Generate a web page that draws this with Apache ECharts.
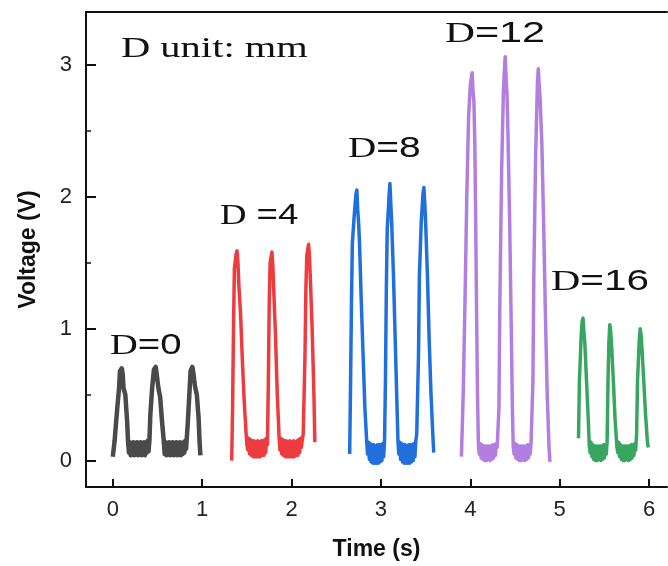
<!DOCTYPE html>
<html>
<head>
<meta charset="utf-8">
<script src="https://cdn.jsdelivr.net/npm/echarts@6/dist/echarts.min.js"></script>
<style>
  html, body { margin: 0; padding: 0; background: #fff; }
  #main { width: 668px; height: 566px; }
</style>
</head>
<body>
<div id="main"></div>
<script>
// traces, [time s, voltage V]
var d0 = [
  [0.00,0.03],[0.02,0.15],[0.05,0.40],[0.07,0.55],[0.08,0.68],[0.10,0.70],[0.11,0.66],[0.12,0.55],[0.14,0.50],[0.16,0.30],[0.17,0.15],
  [0.18,0.06],[0.19,0.14],[0.20,0.04],[0.21,0.13],[0.22,0.05],[0.23,0.14],[0.24,0.04],[0.25,0.12],[0.26,0.05],[0.27,0.14],[0.28,0.04],[0.29,0.13],
  [0.30,0.05],[0.31,0.14],[0.32,0.04],[0.33,0.13],[0.34,0.05],[0.35,0.14],[0.36,0.04],[0.37,0.13],[0.38,0.06],[0.39,0.15],[0.40,0.07],[0.41,0.16],
  [0.42,0.35],[0.44,0.55],[0.46,0.69],[0.48,0.71],[0.49,0.66],[0.51,0.55],[0.53,0.48],[0.55,0.30],[0.57,0.15],
  [0.58,0.05],[0.59,0.14],[0.60,0.04],[0.61,0.13],[0.62,0.05],[0.63,0.14],[0.64,0.04],[0.65,0.12],[0.66,0.05],[0.67,0.14],[0.68,0.04],[0.69,0.13],
  [0.70,0.05],[0.71,0.14],[0.72,0.04],[0.73,0.13],[0.74,0.05],[0.75,0.14],[0.76,0.04],[0.77,0.13],[0.78,0.05],[0.79,0.14],[0.80,0.06],[0.81,0.15],[0.82,0.09],
  [0.84,0.30],[0.86,0.55],[0.87,0.68],[0.89,0.71],[0.90,0.67],[0.92,0.56],[0.94,0.50],[0.96,0.32],[0.97,0.15],[0.98,0.04]
];
var d4 = [
  [1.33,0.00],[1.34,0.40],[1.35,1.00],[1.36,1.45],[1.38,1.57],[1.39,1.59],[1.40,1.50],[1.41,1.33],[1.43,1.10],[1.45,0.75],[1.47,0.45],[1.49,0.22],[1.50,0.12],
  [1.51,0.08],[1.52,0.17],[1.53,0.05],[1.54,0.16],[1.55,0.04],[1.56,0.15],[1.57,0.03],[1.58,0.15],[1.59,0.03],[1.60,0.14],[1.61,0.03],[1.62,0.15],
  [1.63,0.03],[1.64,0.14],[1.65,0.03],[1.66,0.15],[1.67,0.04],[1.68,0.15],[1.69,0.04],[1.70,0.16],[1.71,0.06],[1.72,0.17],[1.73,0.12],
  [1.74,0.60],[1.75,1.20],[1.76,1.50],[1.78,1.58],[1.79,1.48],[1.80,1.30],[1.82,0.95],[1.84,0.50],[1.86,0.18],
  [1.87,0.08],[1.88,0.17],[1.89,0.05],[1.90,0.16],[1.91,0.04],[1.92,0.15],[1.93,0.03],[1.94,0.15],[1.95,0.03],[1.96,0.14],[1.97,0.03],[1.98,0.15],
  [1.99,0.03],[2.00,0.14],[2.01,0.03],[2.02,0.15],[2.03,0.03],[2.04,0.14],[2.05,0.04],[2.06,0.15],[2.07,0.04],[2.08,0.16],[2.09,0.06],[2.10,0.17],[2.11,0.10],[2.12,0.16],
  [2.13,0.20],[2.15,0.80],[2.16,1.30],[2.17,1.55],[2.19,1.64],[2.20,1.55],[2.21,1.38],[2.23,1.00],[2.25,0.50],[2.26,0.14]
];
var d8 = [
  [2.65,0.05],[2.66,0.60],[2.67,1.20],[2.68,1.65],[2.70,1.85],[2.72,2.02],[2.73,2.05],[2.74,1.90],[2.75,1.80],[2.76,1.65],[2.78,1.20],[2.80,0.80],[2.82,0.40],[2.84,0.15],
  [2.85,0.05],[2.86,0.14],[2.87,0.01],[2.88,0.13],[2.89,-0.01],[2.90,0.12],[2.91,-0.02],[2.92,0.12],[2.93,-0.02],[2.94,0.11],[2.95,-0.02],[2.96,0.12],
  [2.97,-0.02],[2.98,0.12],[2.99,-0.01],[3.00,0.12],[3.01,0.00],[3.02,0.13],[3.03,0.03],[3.04,0.15],
  [3.05,0.60],[3.06,1.30],[3.07,1.75],[3.09,2.00],[3.10,2.10],[3.11,1.95],[3.12,1.80],[3.14,1.40],[3.16,0.90],[3.18,0.40],[3.19,0.15],
  [3.20,0.05],[3.21,0.14],[3.22,0.01],[3.23,0.13],[3.24,-0.01],[3.25,0.12],[3.26,-0.02],[3.27,0.12],[3.28,-0.02],[3.29,0.11],[3.30,-0.02],[3.31,0.12],
  [3.32,-0.02],[3.33,0.12],[3.34,-0.01],[3.35,0.12],[3.36,0.00],[3.37,0.13],[3.38,0.03],[3.39,0.15],[3.40,0.20],
  [3.42,0.80],[3.43,1.40],[3.45,1.80],[3.47,2.02],[3.48,2.07],[3.49,1.95],[3.50,1.80],[3.52,1.40],[3.54,0.90],[3.56,0.50],[3.58,0.20],[3.59,0.06]
];
var d12 = [
  [3.90,0.03],[3.92,0.50],[3.94,1.20],[3.96,2.00],[3.98,2.60],[4.00,2.85],[4.02,2.94],[4.03,2.80],[4.04,2.72],[4.05,2.40],[4.06,1.80],[4.07,1.10],[4.08,0.50],[4.09,0.12],
  [4.10,0.05],[4.11,0.13],[4.12,0.02],[4.13,0.12],[4.14,0.01],[4.15,0.11],[4.16,0.00],[4.17,0.11],[4.18,0.00],[4.19,0.11],[4.20,0.01],[4.21,0.11],
  [4.22,0.00],[4.23,0.11],[4.24,0.01],[4.25,0.12],[4.26,0.02],[4.27,0.12],[4.28,0.04],[4.29,0.13],[4.30,0.10],
  [4.32,0.40],[4.33,1.20],[4.35,2.20],[4.37,2.80],[4.38,2.95],[4.39,3.06],[4.40,2.90],[4.41,2.78],[4.42,2.50],[4.44,1.80],[4.46,0.90],[4.47,0.40],[4.48,0.10],
  [4.49,0.05],[4.50,0.13],[4.51,0.02],[4.52,0.12],[4.53,0.01],[4.54,0.11],[4.55,0.00],[4.56,0.11],[4.57,0.00],[4.58,0.11],[4.59,0.01],[4.60,0.11],
  [4.61,0.00],[4.62,0.11],[4.63,0.01],[4.64,0.12],[4.65,0.02],[4.66,0.12],[4.67,0.05],[4.68,0.15],
  [4.70,0.60],[4.71,1.40],[4.73,2.30],[4.75,2.85],[4.76,2.97],[4.77,2.85],[4.78,2.75],[4.80,2.40],[4.82,1.80],[4.84,1.10],[4.86,0.50],[4.88,0.10],[4.89,-0.01]
];
var d16 = [
  [5.21,0.17],[5.22,0.60],[5.24,0.95],[5.25,1.05],[5.26,1.08],[5.27,0.98],[5.28,0.90],[5.30,0.60],[5.32,0.30],[5.33,0.12],
  [5.34,0.06],[5.35,0.14],[5.36,0.03],[5.37,0.12],[5.38,0.01],[5.39,0.11],[5.40,0.00],[5.41,0.11],[5.42,0.00],[5.43,0.11],[5.44,0.01],[5.45,0.11],
  [5.46,0.00],[5.47,0.11],[5.48,0.01],[5.49,0.12],[5.50,0.02],[5.51,0.12],[5.52,0.05],[5.53,0.14],
  [5.54,0.60],[5.55,0.90],[5.56,1.03],[5.57,0.98],[5.58,0.88],[5.60,0.60],[5.62,0.30],[5.64,0.10],
  [5.65,0.06],[5.66,0.14],[5.67,0.03],[5.68,0.12],[5.69,0.01],[5.70,0.11],[5.71,0.00],[5.72,0.11],[5.73,0.00],[5.74,0.11],[5.75,0.01],[5.76,0.11],
  [5.77,0.00],[5.78,0.11],[5.79,0.01],[5.80,0.12],[5.81,0.02],[5.82,0.12],[5.83,0.04],[5.84,0.13],[5.85,0.08],[5.86,0.20],
  [5.87,0.60],[5.89,0.92],[5.90,1.00],[5.91,0.95],[5.92,0.85],[5.94,0.60],[5.96,0.35],[5.98,0.15],[5.99,0.10]
];

var traceNames = ['D=0', 'D=4', 'D=8', 'D=12', 'D=16'];
var traceData = [d0, d4, d8, d12, d16];
var traceColors = ['#4a4a4a', '#ee3b40', '#1f6fdc', '#b27ee0', '#38a660'];
var traceWidths = [4.5, 3.5, 3.5, 3.5, 3.5];
var xTicks = [0, 1, 2, 3, 4, 5, 6];
var yTicks = [0, 1, 2, 3];

var chartDom = document.getElementById('main');
var myChart = echarts.init(chartDom);
var option;

var sans = 'Liberation Sans';
var serif = 'Liberation Serif';

function dLabel(x, y, rest, sx) {
  return {
    type: 'text',
    left: x,
    top: y,
    scaleX: sx,
    style: {
      text: '{d|D}{s|' + rest + '}',
      rich: {
        d: { fontFamily: serif, fontSize: 30, fill: '#111' },
        s: { fontFamily: sans, fontSize: 30, fill: '#111' }
      }
    }
  };
}

var seriesList = [];
for (var i = 0; i < traceData.length; i++) {
  seriesList.push({
    name: traceNames[i],
    type: 'line',
    data: traceData[i],
    showSymbol: false,
    symbol: 'none',
    lineStyle: { color: traceColors[i], width: traceWidths[i], join: 'round' },
    itemStyle: { color: traceColors[i] },
    z: 2
  });
}

option = {
  backgroundColor: '#fff',
  animation: false,
  grid: { left: 86, right: 1, top: 12, bottom: 79 },
  xAxis: [
    {
      type: 'value',
      min: -0.3,
      max: 6.2,
      name: 'Time (s)',
      nameLocation: 'middle',
      nameGap: 51,
      nameTextStyle: { fontFamily: sans, fontSize: 23, fontWeight: 'bold', color: '#111' },
      axisLine: { show: true, onZero: false, lineStyle: { color: '#111', width: 2 } },
      axisTick: { show: true, inside: true, length: 8, lineStyle: { color: '#111', width: 2 },
        customValues: xTicks },
      axisLabel: { fontFamily: sans, fontSize: 22, color: '#222', margin: 12,
        customValues: xTicks },
      splitLine: { show: false }
    },
    {
      type: 'value',
      position: 'top',
      min: -0.3,
      max: 6.2,
      axisLine: { show: true, onZero: false, lineStyle: { color: '#111', width: 2 } },
      axisTick: { show: false },
      axisLabel: { show: false },
      splitLine: { show: false }
    }
  ],
  yAxis: {
    type: 'value',
    min: -0.2,
    max: 3.4,
    name: 'Voltage (V)',
    nameLocation: 'middle',
    nameGap: 46,
    nameTextStyle: { fontFamily: sans, fontSize: 23, fontWeight: 'bold', color: '#111' },
    axisLine: { show: true, onZero: false, lineStyle: { color: '#111', width: 2 } },
    axisTick: { show: true, inside: true, length: 10, lineStyle: { color: '#111', width: 2 },
      customValues: yTicks },
    minorTick: { show: true, splitNumber: 2, length: 5, lineStyle: { color: '#111', width: 1.5 } },
    axisLabel: { fontFamily: sans, fontSize: 22, color: '#222', margin: 14,
      customValues: yTicks },
    splitLine: { show: false }
  },
  graphic: [
    {
      type: 'text',
      left: 121,
      top: 34,
      scaleX: 1.35,
      style: { text: 'D unit: mm', fontFamily: serif, fontSize: 30, fill: '#111' }
    },
    dLabel(110, 331, '=0', 1.28),
    dLabel(220, 201, ' =4', 1.22),
    dLabel(348, 134, '=8', 1.3),
    dLabel(445, 19, '=12', 1.38),
    dLabel(551, 267, '=16', 1.35)
  ],
  series: seriesList
};

myChart.setOption(option);
</script>
</body>
</html>
